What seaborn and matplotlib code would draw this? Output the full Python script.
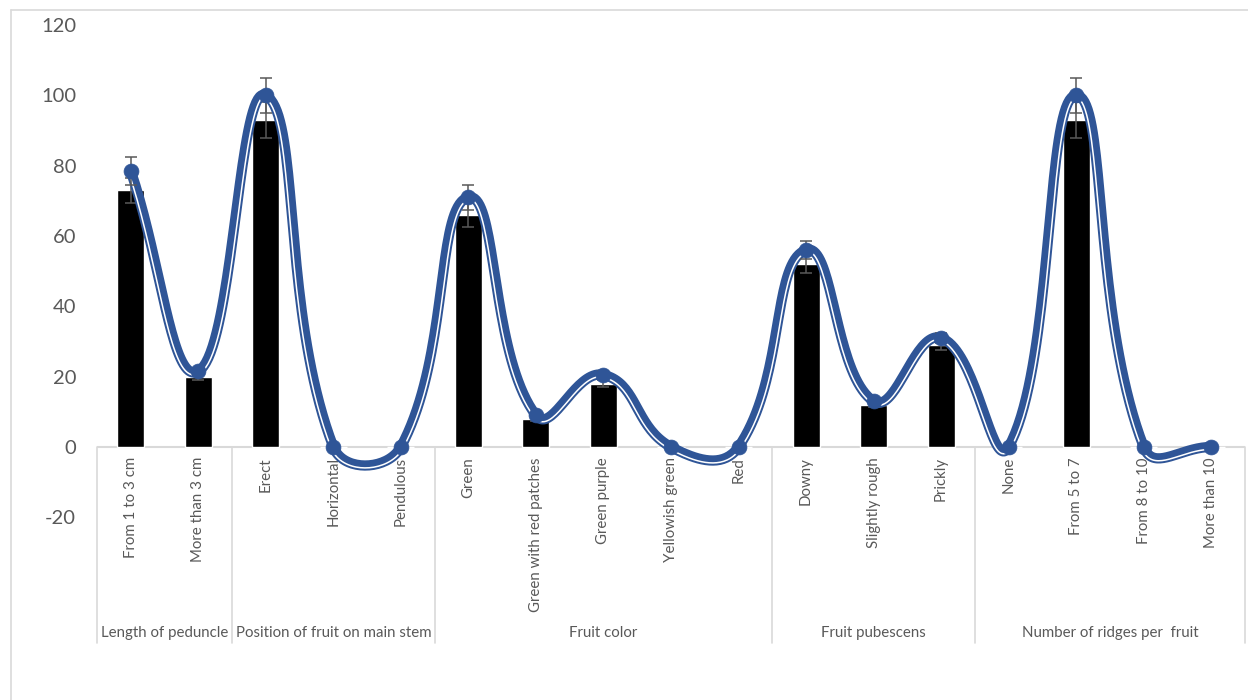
import numpy as np
import pandas as pd
import matplotlib
matplotlib.use("Agg")
import matplotlib.pyplot as plt
import matplotlib.transforms as mtransforms
from matplotlib.lines import Line2D
import seaborn as sns

# ---- data -------------------------------------------------------------
categories = [
    "From 1 to 3 cm", "More than 3 cm",
    "Erect", "Horizontal", "Pendulous",
    "Green", "Green with red patches", "Green purple", "Yellowish green", "Red",
    "Downy", "Slightly rough", "Prickly",
    "None", "From 5 to 7", "From 8 to 10", "More than 10",
]
groups = [
    "Length of peduncle",
    "Position of fruit on main stem",
    "Fruit color",
    "Fruit pubescens",
    "Number of ridges per  fruit",
]
group_sizes = [2, 3, 5, 3, 4]

bar_values = [73, 20, 93, 0, 0, 66, 8, 18, 0, 0, 52, 12, 29, 0, 93, 0, 0]
bar_errors = [3.5, 1, 5, 0, 0, 3.5, 0.5, 1, 0, 0, 2.5, 0.5, 1.5, 0, 5, 0, 0]
line_values = [78.5, 21.5, 100, 0, 0, 71, 9, 20.5, 0, 0, 56, 13, 31, 0, 100, 0, 0]
line_errors = [4, 1, 5, 0, 0, 3.5, 0.5, 1, 0, 0, 2.5, 0.5, 1.5, 0, 5, 0, 0]
y_ticks = [-20, 0, 20, 40, 60, 80, 100, 120]

# ---- style --------------------------------------------------------------
sns.set_style("white")
plt.rcParams["font.family"] = ["Lato", "DejaVu Sans"]

TEXT = "#595959"
RULE = "#D9D9D9"
BLUE = "#2F5597"
W, H = 1248, 700

fig = plt.figure(figsize=(W / 100, H / 100), dpi=100)
ax = fig.add_axes([97 / W, 1 - 517.3 / H, 1148 / W, (517.3 - 25) / H])

df = pd.DataFrame({"category": categories, "value": bar_values})
sns.barplot(data=df, x="category", y="value", order=categories, color="black",
            width=0.4, errorbar=None, saturation=1, ax=ax, zorder=2)

n = len(categories)
pos = np.arange(n)
ax.set_xlim(-0.5, n - 0.5)
ax.set_ylim(-20, 120)

ax.errorbar(pos, bar_values, yerr=bar_errors, fmt="none", ecolor=TEXT,
            elinewidth=1.1, capsize=4, capthick=1.1, zorder=3)

# ---- smoothed line (Bezier through the points, built in pixel space) ----
def smooth_path(pts, k=0.46, steps=40):
    out = [pts[0]]
    m = len(pts)
    t = np.linspace(0, 1, steps)[1:, None]
    for i in range(m - 1):
        p0 = pts[i - 1] if i > 0 else pts[i]
        p1, p2 = pts[i], pts[i + 1]
        p3 = pts[i + 2] if i + 2 < m else pts[i + 1]
        d01 = np.hypot(*(p1 - p0))
        d12 = np.hypot(*(p2 - p1))
        d23 = np.hypot(*(p3 - p2))
        c1 = p1 + (p2 - p0) * k * d12 / (d01 + d12) if d01 + d12 > 0 else p1
        c2 = p2 - (p3 - p1) * k * d12 / (d12 + d23) if d12 + d23 > 0 else p2
        seg = ((1 - t) ** 3) * p1 + 3 * ((1 - t) ** 2) * t * c1 \
            + 3 * (1 - t) * (t ** 2) * c2 + (t ** 3) * p2
        out.extend(seg)
    return np.array(out)

to_px = ax.transData
to_data = ax.transData.inverted()
pix = to_px.transform(np.column_stack([pos, line_values]))
curve = smooth_path(pix)

tan = np.gradient(curve, axis=0)
tan /= np.hypot(tan[:, 0], tan[:, 1])[:, None]
normal = np.column_stack([tan[:, 1], -tan[:, 0]])
inner = curve + normal * 2.4

curve_d = to_data.transform(curve)
inner_d = to_data.transform(inner)

sns.lineplot(x=curve_d[:, 0], y=curve_d[:, 1], sort=False, estimator=None,
             color=BLUE, lw=7.4, ax=ax, zorder=4, solid_capstyle="round")
sns.lineplot(x=inner_d[:, 0], y=inner_d[:, 1], sort=False, estimator=None,
             color="white", lw=1.1, ax=ax, zorder=5)

ax.errorbar(pos, line_values, yerr=line_errors, fmt="none", ecolor=TEXT,
            elinewidth=1.1, capsize=4, capthick=1.1, zorder=6)
sns.scatterplot(x=pos, y=line_values, color=BLUE, s=115, edgecolor=BLUE,
                linewidth=0.5, ax=ax, zorder=7, legend=False)

# ---- axes cosmetics -----------------------------------------------------
for s in ax.spines.values():
    s.set_visible(False)
ax.set_xticks([])
ax.set_yticks(y_ticks)
ax.set_yticklabels([str(v) for v in y_ticks], color=TEXT, fontsize=14.5)
ax.tick_params(axis="y", length=0, pad=15)
ax.set_xlabel("")
ax.set_ylabel("")

ax.axhline(0, color=RULE, lw=1.5, zorder=1)

# category labels and group boxes below the axis
blend = mtransforms.blended_transform_factory(ax.transData, fig.transFigure)
y_axis = 1 - 447 / H
y_bottom = 1 - 643 / H
for i, lab in enumerate(categories):
    ax.text(i, 1 - 457 / H, lab, transform=blend, rotation=90, ha="center",
            va="top", color=TEXT, fontsize=10.8)

edges = np.concatenate([[0], np.cumsum(group_sizes)]) - 0.5
for e in edges:
    ax.add_line(Line2D([e, e], [y_axis, y_bottom], transform=blend,
                       color=RULE, lw=1.2, clip_on=False))
for g, a, b in zip(groups, edges[:-1], edges[1:]):
    ax.text((a + b) / 2, 1 - 633 / H, g, transform=blend, ha="center",
            va="center", color=TEXT, fontsize=10.8)

# chart frame (top and left edges fall inside the canvas)
fig.add_artist(Line2D([11 / W, 1.0], [1 - 9.5 / H, 1 - 9.5 / H],
                      transform=fig.transFigure, color=RULE, lw=1.2))
fig.add_artist(Line2D([11 / W, 11 / W], [0, 1 - 9.5 / H],
                      transform=fig.transFigure, color=RULE, lw=1.2))

fig.savefig("out.png", dpi=100)
